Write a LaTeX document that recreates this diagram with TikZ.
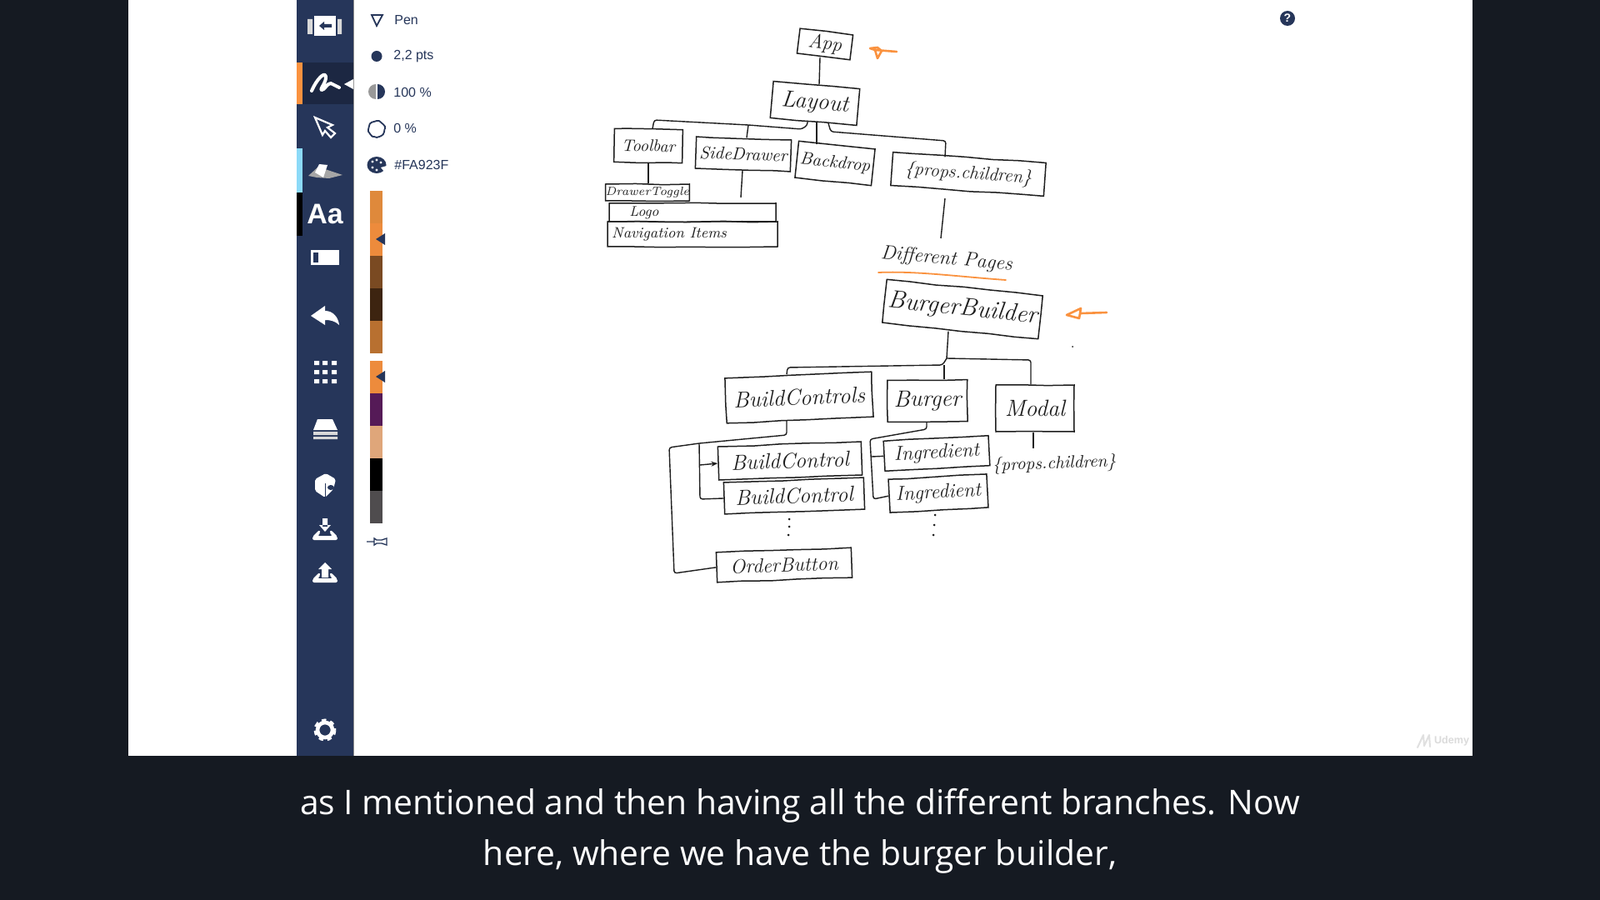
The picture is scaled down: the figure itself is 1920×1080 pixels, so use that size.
\documentclass[tikz,border=0pt]{standalone}
\usepackage{fontspec}
\setsansfont{Liberation Sans}
\newfontfamily\captionfont{Open Sans}
\usetikzlibrary{decorations.pathmorphing,arrows.meta}
\definecolor{pagebg}{HTML}{151A22}
\definecolor{barbg}{HTML}{26365A}
\definecolor{barsel}{HTML}{1C2742}
\definecolor{inkcol}{HTML}{1E1E1E}
\definecolor{markercol}{HTML}{FA923F}
\definecolor{swatchA}{HTML}{DF893B}
\definecolor{swatchB}{HTML}{7A4A22}
\definecolor{swatchC}{HTML}{3D2410}
\definecolor{swatchD}{HTML}{B87030}
\definecolor{swatchE}{HTML}{551A57}
\definecolor{swatchF}{HTML}{DFA67A}
\definecolor{swatchG}{HTML}{4F4C4E}
\tikzset{
  handbox/.style={shape=rectangle,draw=inkcol,line width=.75pt,inner sep=0pt,text=inkcol,
    font=\itshape\fontsize{12}{12}\selectfont,
    decorate,decoration={random steps,segment length=16pt,amplitude=.35pt}},
  handtext/.style={inner sep=0pt,text=inkcol,font=\itshape\fontsize{12}{12}\selectfont},
  wire/.style={draw=inkcol,line width=.7pt,rounded corners=1.5pt},
  marker/.style={draw=markercol,line width=1.3pt,line cap=round,line join=round},
  paneltext/.style={inner sep=0pt,anchor=west,text=barbg,font=\sffamily\fontsize{8}{8}\selectfont},
  capline/.style={inner sep=0pt,text=white,font=\captionfont\fontsize{20.4}{20.4}\selectfont}
}
\begin{document}
\begin{tikzpicture}[x=.5pt,y=-.5pt]
    \useasboundingbox (0,0) rectangle (1920,1080);
    % screen
    \fill[pagebg] (0,0) rectangle (1920,1080);
    \fill[white] (154,0) rectangle (1767,907);
    \fill[barbg] (356,0) rectangle (424,907);
    \fill[black!45] (424,0) rectangle (425,907);
    % sidebar
    \fill[barsel] (363,75) rectangle (424,125);
    \fill[markercol] (356,75) rectangle (363,125);
    \fill[cyan!45] (356,178) rectangle (363,231);
    \fill[black] (356,231) rectangle (363,283);
    \fill[white] (413,101) -- (424,95) -- (424,107) -- cycle;
    \fill[white] (377,19) rectangle (403,43);
    \fill[black!15] (369,23) rectangle (375,41) (405,23) rectangle (410,41);
    \fill[barbg] (383,31) -- (389,26) -- (389,29) -- (398,29) -- (398,33) -- (389,33) -- (389,36) -- cycle;
    \draw[white,line width=2pt,line cap=round,line join=round] (374,109) .. controls (380,95) and (390,85) .. (391,92) .. controls (392,98) and (383,108) .. (386,108) .. controls (390,108) and (392,100) .. (397,100) -- (407,105);
    \draw[white,line width=1.1pt,line join=miter] (378,141) -- (399,150) -- (393,153) -- (402,160) -- (397,165) -- (390,157) -- (387,162) -- cycle;
    \fill[black!35] (370,211) -- (382,200) -- (393,204) -- (411,210) -- (395,214) -- (380,213) -- cycle;
    \fill[white] (383,197) -- (393,198) -- (388,213) -- (378,207) -- cycle;
    \node[inner sep=0pt,text=white,font=\sffamily\bfseries\fontsize{17}{17}\selectfont] (aa) at (390,257) {Aa};
    \fill[white] (373,300) rectangle (407,318);
    \fill[barbg] (376,303) rectangle (382,315);
    \fill[white] (373,379) -- (390,367) -- (390,373) .. controls (400,373) and (406,381) .. (407,390) .. controls (402,385) and (396,384) .. (390,384) -- (390,390) -- cycle;
    \fill[white] (377,433) rectangle (383,438) (387,433) rectangle (393,438) (398,433) rectangle (404,438)
      (377,444) rectangle (383,449) (387,444) rectangle (393,449) (398,444) rectangle (404,449)
      (377,455) rectangle (383,460) (387,455) rectangle (393,460) (398,455) rectangle (404,460);
    \fill[white] (381,503) -- (399,503) -- (405,516) -- (376,516) -- cycle;
    \fill[black!15] (376,518) rectangle (405,522) (376,524) rectangle (405,527);
    \fill[white,rounded corners=1pt] (378,575) -- (391,568) -- (403,575) -- (400,587) -- (390,597) -- (378,589) -- cycle;
    \fill[barbg] (397,585) ellipse (4 and 3);
    \draw[barbg,line width=.3pt] (390,580) -- (390,597);
    \fill[white] (387,622) rectangle (393,632) (383,630) -- (397,630) -- (390,638) -- cycle;
    \fill[white,rounded corners=1pt] (375,648) -- (375,644) -- (383,636) -- (385,639) -- (381,643) -- (399,643) -- (395,639) -- (397,636) -- (405,644) -- (405,648) -- cycle;
    \fill[white] (386,682) rectangle (394,693) (382,683) -- (398,683) -- (390,675) -- cycle;
    \fill[white,rounded corners=1pt] (375,699) -- (375,695) -- (383,687) -- (385,690) -- (381,694) -- (399,694) -- (395,690) -- (397,687) -- (405,695) -- (405,699) -- cycle;
    \draw[white,line width=2.3pt] (390,876) circle (9);
    \draw[white,line width=2pt,dash pattern=on 2.6pt off 2.4pt] (390,876) circle (11.5);
    % pen panel
    \draw[barbg,line width=.9pt] (446,18) -- (459,18) -- (452,31) -- cycle;
    \node[paneltext] (pentool) at (473,24) {Pen};
    \fill[barbg] (452,67.5) circle (6.5);
    \node[paneltext] (pensize) at (472,68) {2,2 pts};
    \fill[black!40] (451,101) arc (270:90:9) -- cycle;
    \fill[barbg] (453,101) arc (270:450:9) -- cycle;
    \node[paneltext] (penalpha) at (472,111) {100 \%};
    \draw[barbg,line width=.9pt,decorate,decoration={random steps,segment length=1.5pt,amplitude=.3pt}] (452,155) circle (9.5);
    \node[paneltext] (pensmooth) at (472,154) {0 \%};
    \fill[barbg] (452,198) ellipse (11.5 and 10);
    \fill[white] (447,194) circle (1.6) (452,192) circle (1.6) (457,195) circle (1.6) (447,201) circle (1.6) (452,204) circle (1.6);
    \fill[white] (464,199) -- (457,201) -- (461,206) -- (465,206) -- cycle;
    \node[paneltext] (pencolor) at (473,198) {\#FA923F};
    \fill[swatchA] (444,229) rectangle (459,268);
    \fill[markercol!95!black] (444,268) rectangle (459,307);
    \fill[swatchB] (444,307) rectangle (459,346);
    \fill[swatchC] (444,346) rectangle (459,385);
    \fill[swatchD] (444,385) rectangle (459,424);
    \fill[markercol!95!black] (444,433) rectangle (459,472);
    \fill[swatchE] (444,472) rectangle (459,511);
    \fill[swatchF] (444,511) rectangle (459,550);
    \fill[black] (444,550) rectangle (459,589);
    \fill[swatchG] (444,589) rectangle (459,628);
    \fill[barbg] (451,287) -- (462,280) -- (462,294) -- cycle;
    \fill[barbg] (451,452) -- (462,445) -- (462,459) -- cycle;
    \draw[barbg,line width=.7pt] (440,650) -- (449,650) (449,646) -- (452,648) -- (458,648) -- (464,646) -- (464,654) -- (458,652) -- (452,652) -- (449,654) -- cycle;
    % help button and watermark
    \node[shape=circle,fill=barbg,minimum size=9pt,inner sep=0pt,text=white,font=\sffamily\bfseries\fontsize{7}{7}\selectfont] (help) at (1545,22) {?};
    \draw[black!12,line width=1pt,line cap=round,line join=round] (1701,897) -- (1708,882) -- (1709,895) -- (1715,882) -- (1716,896);
    \node[inner sep=0pt,text=black!14,font=\sffamily\bfseries\fontsize{6.3}{6.3}\selectfont] (udemy) at (1742,889) {Udemy};
    % top of the tree
    \node[handbox,rotate=-7,minimum width=32pt,minimum height=15pt] (app) at (990,53) {App};
    \node[handbox,rotate=-5,minimum width=52pt,minimum height=22pt,font=\itshape\fontsize{14}{14}\selectfont] (layout) at (978,124) {Layout};
    \node[handbox,rotate=-1,minimum width=41pt,minimum height=20pt,font=\itshape\fontsize{10}{10}\selectfont] (toolbar) at (778,175) {Toolbar};
    \node[handbox,rotate=-2,minimum width=57pt,minimum height=19pt,font=\itshape\fontsize{10.5}{10.5}\selectfont] (sidedrawer) at (892,185) {SideDrawer};
    \node[handbox,rotate=-6,minimum width=46pt,minimum height=22pt,font=\itshape\fontsize{10.5}{10.5}\selectfont] (backdrop) at (1002,196) {Backdrop};
    \node[handbox,rotate=-4,minimum width=92pt,minimum height=20pt,font=\itshape\fontsize{11}{11}\selectfont] (children) at (1162,209) {\{props.children\}};
    \node[handbox,minimum width=45pt,minimum height=10pt,font=\itshape\fontsize{7.2}{7.2}\selectfont] (toggle) at (777,231) {DrawerToggle};
    \node[handbox,minimum width=100pt,minimum height=11pt,font=\itshape\fontsize{8.5}{8.5}\selectfont] (logo) at (831,255) {\hspace*{-58pt}Logo};
    \node[handbox,minimum width=102pt,minimum height=15pt,font=\itshape\fontsize{9}{9}\selectfont] (navitems) at (831,281) {\hspace*{-28pt}Navigation Items};
    \node[handtext,rotate=-5,font=\itshape\fontsize{12}{12}\selectfont] (pages) at (1136,311) {Different Pages};
    \coordinate (drawerend) at (889,237);
    \coordinate (pagesend) at (1129,286);
    \coordinate (layoutleft) at (969,145);
    \coordinate (layoutright) at (994,148);
    \path[wire] (984,0 |- app.south) edge (983,0 |- layout.north);
    \draw[wire] (layoutleft) -- (969,150) -- (962,155) -- (898,150) -- (785,144) -- (783,0 |- toolbar.north);
    \draw[wire] (898,150) -- (896,0 |- sidedrawer.north);
    \path[wire] (980,0 |- layout.south) edge (980,0 |- backdrop.north);
    \draw[wire] (layoutright) -- (997,158) -- (1135,169) -- (1134,0 |- children.north);
    \path[wire] (778,0 |- toolbar.south) edge (778,0 |- toggle.north);
    \path[wire] (891,0 |- sidedrawer.south) edge (drawerend);
    \path[wire] (1134,238) edge (pagesend);
    \draw[marker] (1076,62) -- (1050,60) (1044,58) -- (1053,57) -- (1058,61) -- (1053,70) -- (1050,60) -- cycle;
    \draw[marker,line width=.9pt] (1054,327) .. controls (1100,325) and (1150,332) .. (1207,336);
    % burger part
    \node[handbox,rotate=-6,minimum width=94pt,minimum height=26pt,font=\itshape\fontsize{15}{15}\selectfont] (builder) at (1155,371) {BurgerBuilder};
    \node[handbox,rotate=2.5,minimum width=88pt,minimum height=27pt,font=\itshape\fontsize{13.5}{13.5}\selectfont] (controls) at (959,477) {BuildControls};
    \node[handbox,rotate=.5,minimum width=48pt,minimum height=25pt,font=\itshape\fontsize{14}{14}\selectfont] (burger) at (1113,481) {Burger};
    \node[handbox,minimum width=47pt,minimum height=28pt,font=\itshape\fontsize{14}{14}\selectfont] (modal) at (1242,490) {Modal};
    \node[handbox,rotate=2,minimum width=86pt,minimum height=20pt,font=\itshape\fontsize{13}{13}\selectfont] (controlone) at (948,553) {BuildControl};
    \node[handbox,rotate=2,minimum width=84pt,minimum height=19pt,font=\itshape\fontsize{13}{13}\selectfont] (controltwo) at (953,595) {BuildControl};
    \node[handbox,rotate=3,minimum width=63pt,minimum height=18pt,font=\itshape\fontsize{12}{12}\selectfont] (ingredone) at (1124,544) {Ingredient};
    \node[handbox,rotate=3,minimum width=59pt,minimum height=20pt,font=\itshape\fontsize{12}{12}\selectfont] (ingredtwo) at (1126,592) {Ingredient};
    \node[handbox,rotate=2,minimum width=81pt,minimum height=18pt,font=\itshape\fontsize{12}{12}\selectfont] (orderbutton) at (941,678) {OrderButton};
    \node[handtext,rotate=2,font=\itshape\fontsize{10.5}{10.5}\selectfont] (modalchildren) at (1265,557) {\{props.children\}};
    \fill[inkcol] (947,623) circle (1.5) (947,632) circle (1.5) (946,642) circle (1.5);
    \fill[inkcol] (1122,618) circle (1.5) (1121,630) circle (1.5) (1120,642) circle (1.5);
    \coordinate (builderfork) at (1136,430);
    \coordinate (controlsfork) at (944,522);
    \coordinate (burgerfork) at (1112,515);
    \coordinate (modalend) at (1240,538);
    \path[wire] (1138,0 |- builder.south) edge (builderfork);
    \draw[wire] (builderfork) -- (1131,438) -- (945,441) -- (944,0 |- controls.north);
    \draw[wire] (builderfork) -- (1237,432) -- (1237,0 |- modal.north);
    \path[wire] (1133,438) edge (1133,0 |- burger.north);
    \draw[wire] (944,0 |- controls.south) -- (controlsfork) -- (839,532) -- (803,537) -- (809,688) -- (orderbutton.west);
    \draw[wire] (839,532) -- (840,599) -- (869,0 |- controltwo.west);
    \draw[wire,-{Stealth[length=4pt,width=3pt]}] (840,558) -- (controlone.west);
    \draw[wire] (1112,0 |- burger.south) -- (burgerfork) -- (1044,527) -- (1048,599) -- (ingredtwo.west);
    \draw[wire] (1046,548) -- (ingredone.west);
    \path[wire] (1240,0 |- modal.south) edge (modalend);
    \draw[marker] (1328,375) -- (1297,376) (1297,370) -- (1280,378) -- (1295,382) -- cycle;
    \fill[inkcol] (1287,416) circle (1);
    % caption
    \node[capline] (capone) at (960,967) {as I mentioned and then having all the different branches. Now};
    \node[capline] (captwo) at (960,1028) {here, where we have the burger builder,};
\end{tikzpicture}
\end{document}
